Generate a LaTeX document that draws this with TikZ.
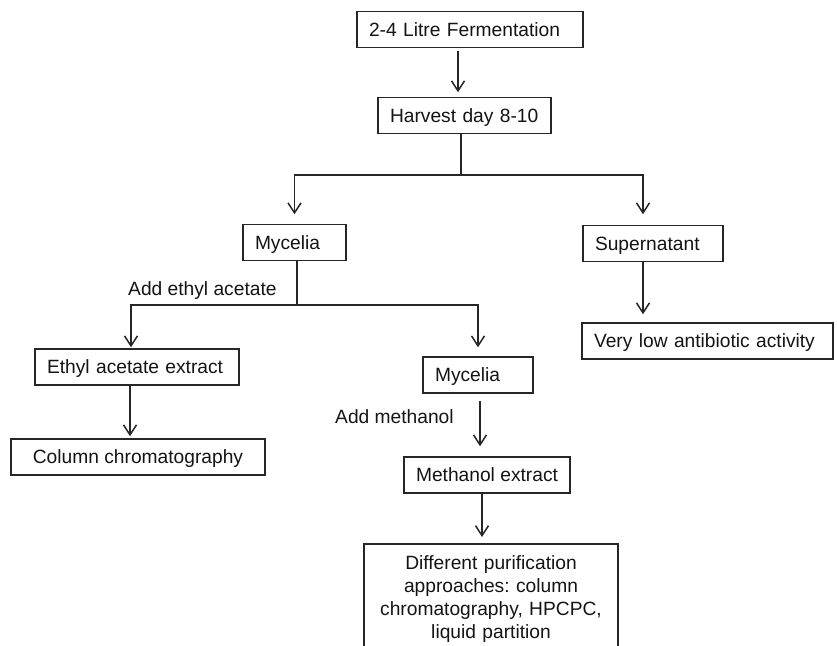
\documentclass[tikz,border=0pt]{standalone}
\usepackage{fontspec}
\setmainfont{Liberation Sans}
\usetikzlibrary{arrows.meta,calc}
\begin{document}
\frenchspacing
\begin{tikzpicture}[x=1pt,y=-1pt,
  every node/.style={font=\fontsize{19.2}{23}\selectfont\frenchspacing, text=black!92},
  box/.style={draw=black!85, line width=1.5pt, inner xsep=12pt, inner ysep=0pt,
    minimum height=36pt, text height=13.6pt, text depth=0pt},
  lbox/.style={box, text width=#1, align=left},
  cbox/.style={box, minimum width=#1},
  conn/.style={draw=black!85, line width=1.5pt},
  arr/.style={conn, -{Straight Barb[length=10pt,width=13pt]}},
  lab/.style={anchor=west, inner sep=0pt, text height=13.6pt, text depth=0pt}]
\useasboundingbox (0,0) rectangle (837,645);
\fill[white] (0,0) rectangle (837,645);
\clip (0,0) rectangle (837,645);

% boxes
\node[lbox=202pt] (ferm) at (470,29.5) {2-4 Litre Fermentation};
\node[lbox=149pt] (harv) at (464.5,115.5) {Harvest day 8-10};
\node[lbox=79pt] (myc1) at (294.5,242.5) {Mycelia};
\node[lbox=116pt] (sup) at (653,243.5) {Supernatant};
\node[lbox=227pt] (low) at (707.5,341) {Very low antibiotic activity};
\node[lbox=180pt] (ethyl) at (137,367) {Ethyl acetate extract};
\node[lbox=86pt] (myc2) at (478,375) {Mycelia};
\node[cbox=254pt] (colc) at (138,457) {Column chromatography};
\node[cbox=160pt] (meth) at (487,475) {Methanol extract};
\node[draw=black!85, line width=1.5pt, anchor=north, text width=230pt, align=center,
  inner xsep=12pt, inner ysep=12pt] (purif) at (491,543)
  {Different purification\\approaches: column\\chromatography, HPCPC,\\liquid partition};

% labels
\node[lab] (l1) at (128,288.5) {Add ethyl acetate};
\node[lab] (l2) at (335,417) {Add methanol};

% helper coordinates
\coordinate (xa) at (458,0);
\coordinate (s1) at (461,175);
\coordinate (xs) at (643,0);
\coordinate (s2) at (297,305);
\coordinate (xe) at (131,0);
\coordinate (xm) at (478,0);
\coordinate (xc) at (130,0);
\coordinate (xm2) at (480,0);
\coordinate (xp) at (482,0);

% connectors
\draw[arr, shorten <=2.5pt, shorten >=4.5pt] (ferm.south -| xa) -- (harv.north -| xa);
\draw[conn] (harv.south -| s1) -- (s1);
\draw[arr, shorten >=9.5pt] (s1) -| (myc1.north);
\draw[arr, shorten >=10.5pt] (s1) -| (sup.north -| xs);
\draw[conn] (myc1.south -| s2) -- (s2);
\draw[arr, shorten >=1pt] (s2) -| (ethyl.north -| xe);
\draw[arr, shorten >=9pt] (s2) -| (myc2.north -| xm);
\draw[arr, shorten >=2pt] (ethyl.south -| xc) -- (colc.north -| xc);
\draw[arr, shorten >=8pt] (sup.south -| xs) -- (low.north -| xs);
\draw[arr, shorten <=7pt, shorten >=10pt] (myc2.south -| xm2) -- (meth.north -| xm2);
\draw[arr, shorten >=6pt] (meth.south -| xp) -- (purif.north -| xp);
\end{tikzpicture}
\end{document}
